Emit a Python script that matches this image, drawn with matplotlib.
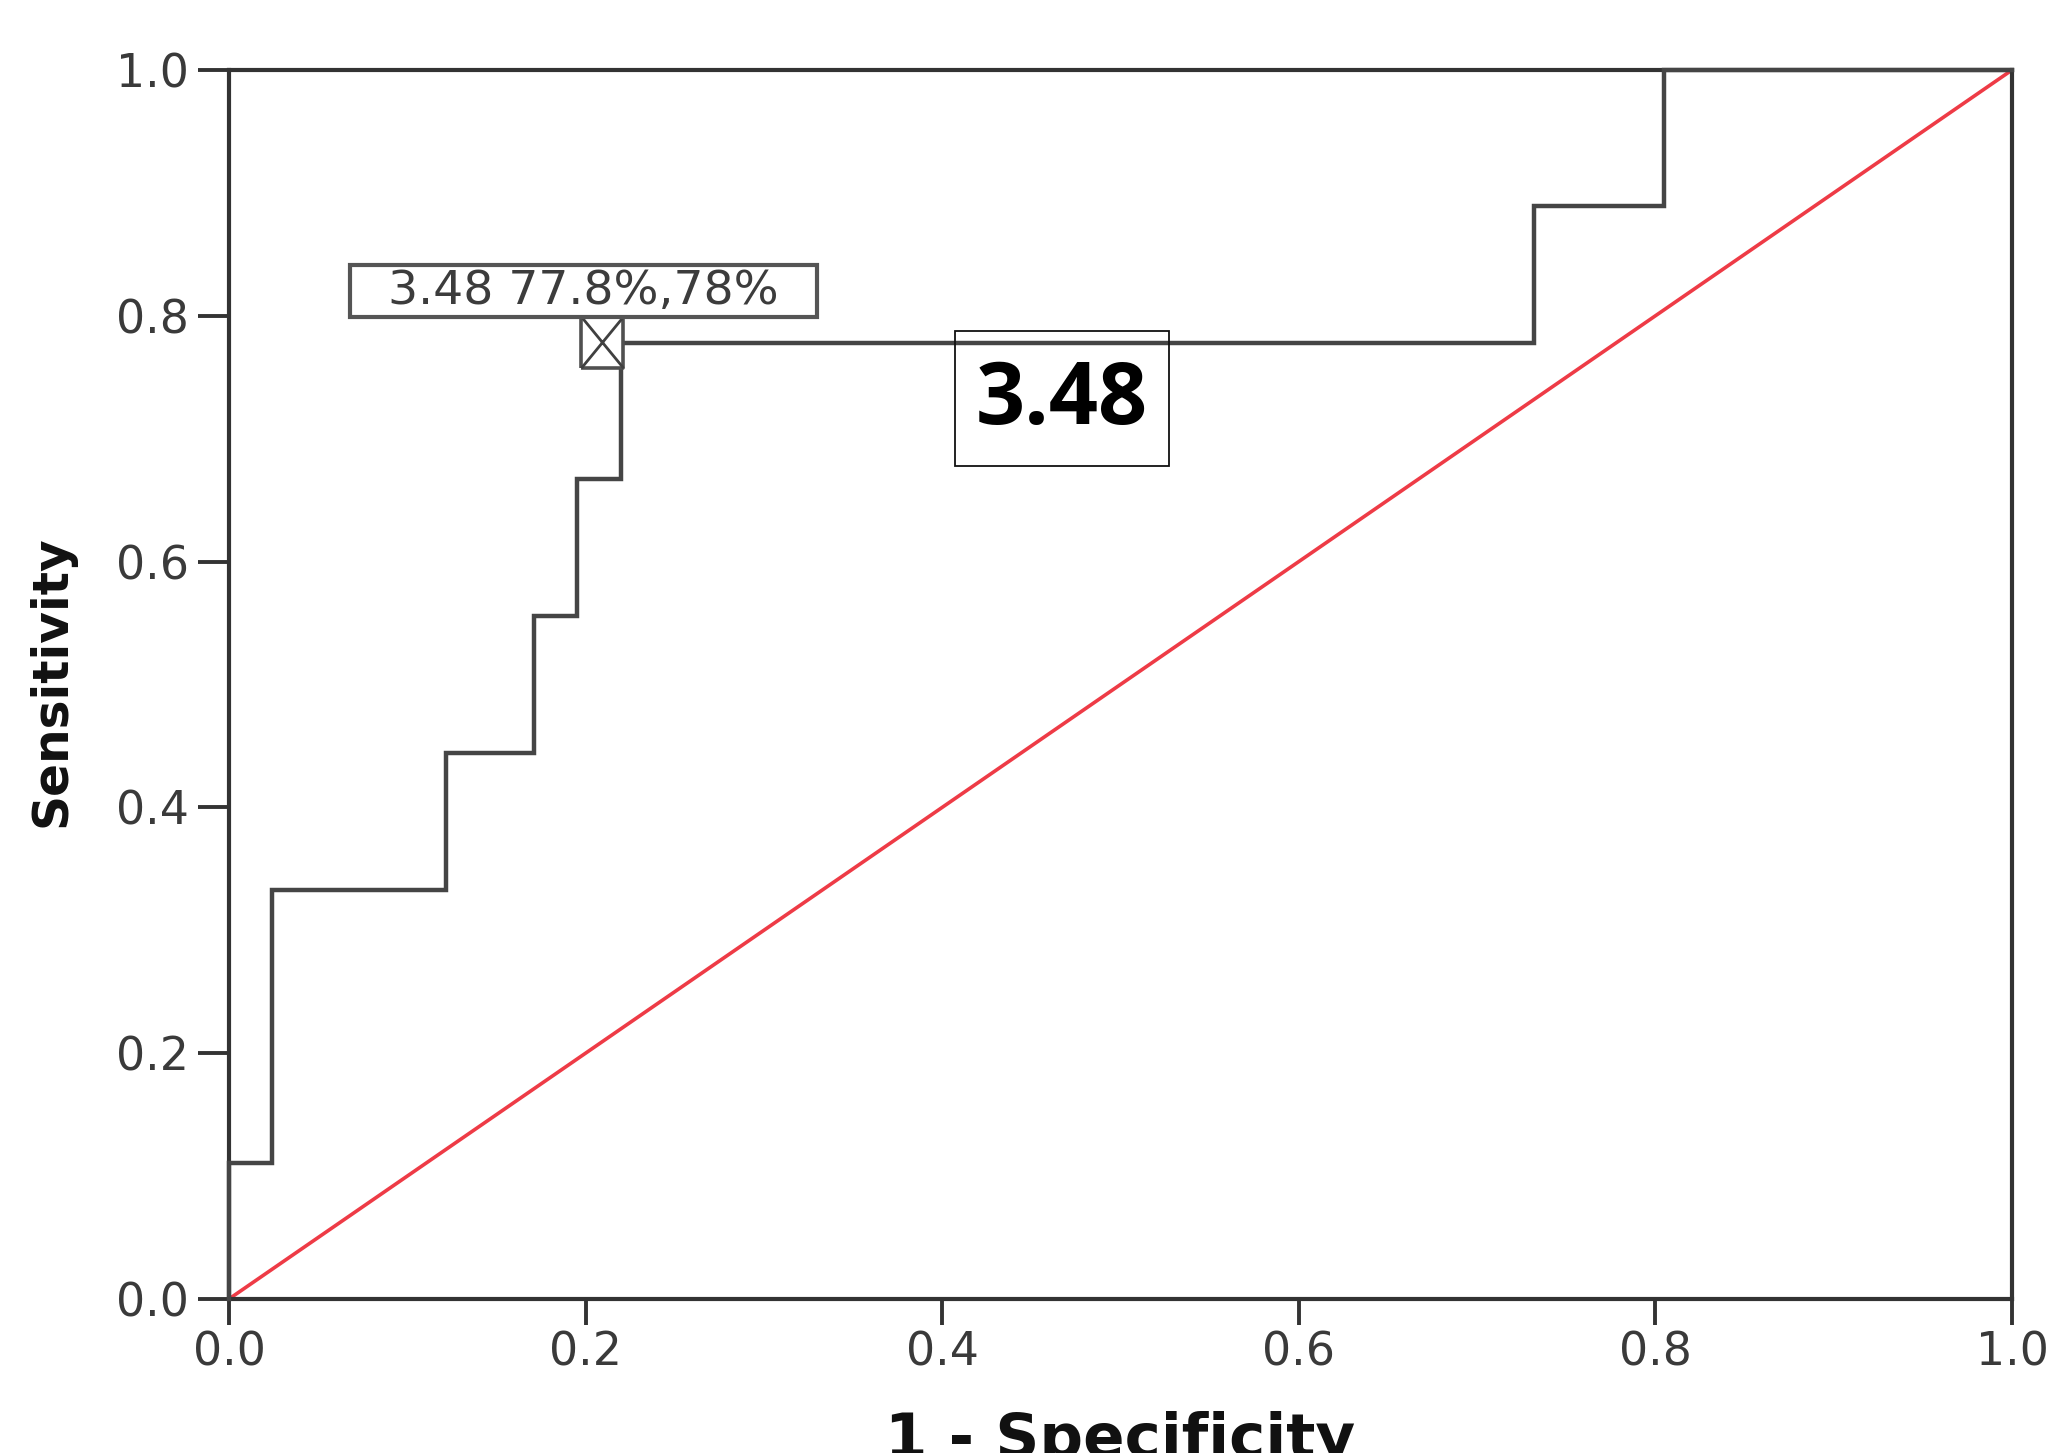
import matplotlib
matplotlib.use("Agg")
from matplotlib import pyplot as plt
from matplotlib.path import Path
from matplotlib.patches import Rectangle

# ROC curve vertices (1 - specificity, sensitivity)
fpr = [0.0, 0.0, 0.024, 0.024, 0.122, 0.122, 0.171, 0.171, 0.195, 0.195,
       0.220, 0.220, 0.732, 0.732, 0.805, 0.805, 1.0]
tpr = [0.0, 0.111, 0.111, 0.333, 0.333, 0.444, 0.444, 0.556, 0.556, 0.667,
       0.667, 0.778, 0.778, 0.889, 0.889, 1.0, 1.0]

# reference line
ref_x = [0.0, 1.0]
ref_y = [0.0, 1.0]

# cutoff point
cut_x = 0.209
cut_y = 0.779
cut_label = "3.48 77.8%,78%"
cut_value = "3.48"

ticks = [0.0, 0.2, 0.4, 0.6, 0.8, 1.0]
tick_labels = ["0.0", "0.2", "0.4", "0.6", "0.8", "1.0"]

fig = plt.figure(figsize=(20.48, 14.53), dpi=100)
ax = fig.add_axes([0.1118, 0.106, 0.8706, 0.8458])

ax.plot(ref_x, ref_y, color="#ee3b46", lw=2.6, zorder=2)
ax.plot(fpr, tpr, color="#454545", lw=3.2, zorder=3, clip_on=False,
        solid_joinstyle="miter")

# square-with-cross marker (slightly taller than wide)
w = 0.41
box = Path([(-w, -0.5), (w, -0.5), (w, 0.5), (-w, 0.5), (-w, -0.5)])
cross = Path([(-w, -0.5), (w, 0.5), (-w, 0.5), (w, -0.5)],
             [Path.MOVETO, Path.LINETO, Path.MOVETO, Path.LINETO])
ax.plot([cut_x], [cut_y], marker=box, ms=37, mfc="white", mec="#505050",
        mew=2.6, ls="none", zorder=4, clip_on=False)
ax.plot([cut_x], [cut_y], marker=cross, ms=37, mec="#404040",
        mew=2.0, ls="none", zorder=5, clip_on=False)

# cutoff label box
ax.add_patch(Rectangle((0.068, 0.799), 0.262, 0.042, facecolor="white",
                       edgecolor="#555555", lw=3.0, zorder=6))
ax.text(0.199, 0.820, cut_label, ha="center", va="center", fontsize=34,
        family="DejaVu Sans", color="#3c3c3c", zorder=7)

# big value box (overlay, transparent)
ax.add_patch(Rectangle((0.407, 0.678), 0.120, 0.110, facecolor="none",
                       edgecolor="#111111", lw=1.3, zorder=8))
ax.text(0.467, 0.730, cut_value, ha="center", va="center", fontsize=62,
        family="Open Sans", fontweight="bold", color="black", zorder=9)

ax.set_xlim(0, 1)
ax.set_ylim(0, 1)
ax.set_xticks(ticks)
ax.set_yticks(ticks)
ax.set_xticklabels(tick_labels, family="DejaVu Sans", fontsize=33,
                   color="#3a3a3a")
ax.set_yticklabels(tick_labels, family="DejaVu Sans", fontsize=33,
                   color="#3a3a3a")
ax.tick_params(axis="x", length=18.7, width=2.8, pad=4, color="#333333")
ax.tick_params(axis="y", length=22, width=2.8, pad=7, color="#333333")
for s in ax.spines.values():
    s.set_linewidth(3.0)
    s.set_color("#333333")

fig.text(0.547, -0.003, "1 - Specificity", ha="center", va="baseline",
         fontsize=44, fontweight="bold", family="DejaVu Sans", color="#111111")
fig.text(0.025, 0.531, "Sensitivity", ha="center", va="center", rotation=90,
         fontsize=35, fontweight="bold", family="DejaVu Sans", color="#111111")

fig.savefig("out.png", dpi=100, facecolor="white")
